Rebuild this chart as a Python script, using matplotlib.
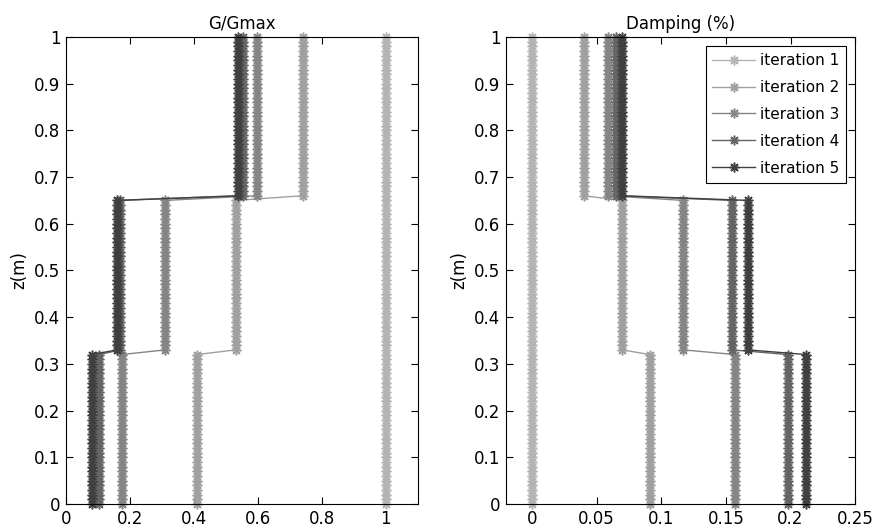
import numpy as np
import matplotlib
matplotlib.use('Agg')
import matplotlib.pyplot as plt
from matplotlib.ticker import FuncFormatter

# depth samples, one profile value per layer (bottom, middle, top)
z = np.round(np.arange(0, 1.0001, 0.01), 2)
layer_tops = [0.32, 0.65, 1.0]

labels = ['iteration 1', 'iteration 2', 'iteration 3', 'iteration 4', 'iteration 5']

# G/Gmax per layer
g_iter1 = [1.0, 1.0, 1.0]
g_iter2 = [0.41, 0.53, 0.74]
g_iter3 = [0.175, 0.31, 0.597]
g_iter4 = [0.104, 0.17, 0.553]
g_iter5 = [0.08, 0.16, 0.537]

# damping per layer
d_iter1 = [0.0, 0.0, 0.0]
d_iter2 = [0.091, 0.070, 0.040]
d_iter3 = [0.157, 0.117, 0.059]
d_iter4 = [0.198, 0.155, 0.065]
d_iter5 = [0.212, 0.167, 0.070]

colors = ['#b4b4b4', '#a0a0a0', '#858585', '#656565', '#404040']


def profile(vals):
    idx = np.searchsorted(layer_tops, z - 1e-9)
    return np.array(vals)[idx]


def fmt(v, pos):
    return ('%g' % round(v, 4))


plt.rcParams['font.family'] = ['DejaVu Sans']
plt.rcParams['font.size'] = 12

fig = plt.figure(figsize=(8.73, 5.32), dpi=100)
ax1 = fig.add_axes([0.0756, 0.0526, 0.403, 0.878])
ax2 = fig.add_axes([0.5796, 0.0526, 0.400, 0.878])

g_all = [g_iter1, g_iter2, g_iter3, g_iter4, g_iter5]
d_all = [d_iter1, d_iter2, d_iter3, d_iter4, d_iter5]

star = (8, 2, 0)  # matlab style asterisk
for i in range(5):
    ax1.plot(profile(g_all[i]), z, '-', marker=star, color=colors[i], lw=1, ms=7, mew=1.1,
             clip_on=False, label=labels[i])
    ax2.plot(profile(d_all[i]), z, '-', marker=star, color=colors[i], lw=1, ms=7, mew=1.1,
             clip_on=False, label=labels[i])

ax1.set_xlim(0, 1.1)
ax1.set_xticks([0, 0.2, 0.4, 0.6, 0.8, 1])
ax1.set_title('G/Gmax', fontsize=12)

ax2.set_xlim(-0.02, 0.25)
ax2.set_xticks([0, 0.05, 0.1, 0.15, 0.2, 0.25])
ax2.set_title('Damping (%)', fontsize=12)
leg = ax2.legend(loc='upper right', fancybox=False, framealpha=1, edgecolor='black',
                 fontsize=11, borderaxespad=0.6, handlelength=2.8, labelspacing=0.78,
                 handletextpad=0.3, borderpad=0.45)
leg.get_frame().set_linewidth(0.8)

for ax in [ax1, ax2]:
    ax.set_ylim(0, 1)
    ax.set_yticks(np.arange(0, 1.01, 0.1))
    ax.xaxis.set_major_formatter(FuncFormatter(fmt))
    ax.yaxis.set_major_formatter(FuncFormatter(fmt))
    ax.set_ylabel('z(m)', labelpad=4)
    ax.tick_params(direction='in', top=True, right=True, length=5, labelsize=12, pad=4)

fig.savefig('out.png', dpi=100)
